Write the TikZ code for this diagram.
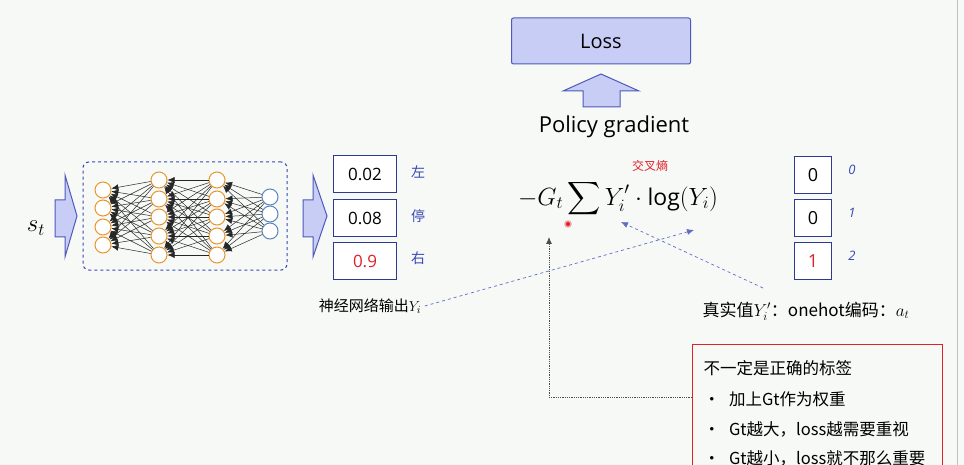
\documentclass[tikz,border=0pt]{standalone}
\usepackage{amsmath,amssymb}
\usepackage{xcolor}
\usepackage{fontspec}
\setmainfont{Open Sans}
\newfontfamily\cjk{Noto Sans CJK SC}
\usepackage{tikz}
\usetikzlibrary{positioning,arrows.meta,calc}

\definecolor{bgcol}{HTML}{F6F9F6}
\definecolor{netblue}{HTML}{3A47B5}
\definecolor{lightblue}{HTML}{C8CDF6}
\definecolor{nodeorange}{HTML}{E8962E}
\definecolor{nodeblue}{HTML}{5B86B8}
\definecolor{hintred}{HTML}{E0202A}

\begin{document}
\begin{tikzpicture}[x=1pt, y=-1pt,
    neuron/.style={draw=nodeorange, line width=1pt, fill=white, circle,
                   minimum size=16pt, inner sep=0pt},
    outneuron/.style={draw=nodeblue, line width=1pt, fill=white, circle,
                      minimum size=16pt, inner sep=0pt},
    wire/.style={black!85, line width=0.5pt, -{Latex[length=7pt,width=6pt]}},
    valbox/.style={draw=netblue!80!black, line width=1pt, fill=white,
                   minimum width=63pt, minimum height=37pt,
                   font=\fontsize{17}{20}\selectfont},
    onebox/.style={draw=netblue!80!black, line width=1pt, fill=white,
                   minimum width=37pt, minimum height=37pt,
                   font=\fontsize{18}{20}\selectfont},
    side/.style={text=netblue, font=\cjk\fontsize{14}{16}\selectfont},
    idx/.style={text=netblue, font=\itshape\fontsize{13}{14}\selectfont},
    blockarrow/.style={draw=netblue!90, line width=1pt, fill=lightblue, line join=miter},
    hint/.style={netblue!80, dashed, line width=0.7pt, -{Latex[length=7pt,width=6pt]}},
    remarkline/.style={font=\cjk\fontsize{16.5}{20}\selectfont, anchor=west}]
  \clip (0,0) rectangle (964,465);
  \fill[bgcol] (0,0) rectangle (964,465);
  \draw[black!25, line width=1pt] (957,0) -- (957,465);

  % input state and arrow into the network
  \node[font=\fontsize{27}{28}\selectfont] (st) at (36,228) {$s_t$};
  \draw[blockarrow] (55,200) -- (65,200) -- (65,175) -- (77,216) -- (65,257)
      -- (65,237) -- (55,237) -- cycle;

  % network box
  \node[draw=netblue, dashed, line width=1pt, rounded corners=6pt,
        minimum width=204pt, minimum height=108pt] (net) at (185,216) {};

  % layers
  \foreach \i/\y in {1/190,2/208,3/227,4/245}
    \node[neuron] (a\i) at (103,\y) {};
  \foreach \i/\y in {1/180,2/199,3/217,4/236,5/255} {
    \node[neuron] (b\i) at (159,\y) {};
    \node[neuron] (c\i) at (217,\y) {};
  }
  \foreach \i/\y in {1/197,2/214,3/231}
    \node[outneuron] (d\i) at (270,\y) {};

  % weights, pointing backwards
  \foreach \j in {1,...,5}
    \foreach \i in {1,...,4}
      \draw[wire] (b\j) -- (a\i);
  \foreach \j in {1,...,5}
    \foreach \i in {1,...,5}
      \draw[wire] (c\j) -- (b\i);
  \foreach \j in {1,...,3}
    \foreach \i in {1,...,5}
      \draw[wire] (d\j) -- (c\i);

  % output probabilities
  \draw[blockarrow] (303,200) -- (313,200) -- (313,175) -- (327,216) -- (313,257)
      -- (313,237) -- (303,237) -- cycle;
  \node[valbox] (p1) at (365,174) {0.02};
  \node[valbox] (p2) at (365,218) {0.08};
  \node[valbox, text=hintred] (p3) at (365,261) {0.9};
  \node[side] (left) at (418,172) {左};
  \node[side] (stop) at (418,216) {停};
  \node[side] (right) at (418,258) {右};
  \node[font=\cjk\fontsize{15}{18}\selectfont] (nnout) at (370,306) {神经网络输出$Y_i$};

  % loss
  \node[draw=netblue!90, line width=1pt, fill=lightblue, rounded corners=2pt,
        minimum width=179pt, minimum height=46pt,
        font=\fontsize{20}{22}\selectfont] (loss) at (601,41) {Loss};
  \draw[blockarrow] (583,107) -- (583,91) -- (563,91) -- (601,74) -- (639,91)
      -- (620,91) -- (620,107) -- cycle;
  \node[font=\fontsize{22}{24}\selectfont] (pg) at (614,127) {Policy gradient};

  % objective
  \node[font=\fontsize{23}{26}\selectfont] (obj) at (618,199)
      {$\displaystyle -G_t\sum Y_i'\cdot\log(Y_i)$};
  \node[text=hintred, font=\cjk\fontsize{12}{14}\selectfont] (ce) at (650,166) {交叉熵};
  \node[circle, fill=hintred, draw=hintred!40, line width=1.5pt, inner sep=0pt,
        minimum size=6pt] (ptr) at (568,224) {};

  % one-hot target
  \node[onebox] (t1) at (813,175) {0};
  \node[onebox] (t2) at (813,218) {0};
  \node[onebox, text=hintred] (t3) at (813,261) {1};
  \node[idx] (i0) at (852,170) {0};
  \node[idx] (i1) at (852,213) {1};
  \node[idx] (i2) at (852,256) {2};
  \node[font=\cjk\fontsize{17}{20}\selectfont] (truth) at (806,311)
      {真实值$Y_i'$：onehot编码：$a_t$};

  % pointers
  \coordinate (logtip) at (694,230);
  \coordinate (yptip) at (621,222);
  \coordinate (gttip) at (549,237);
  \draw[hint] (nnout.east) -- (logtip);
  \draw[hint] (763,288) -- (yptip);

  % remark box
  \node[draw=hintred, line width=1pt, anchor=north west, minimum width=250pt,
        minimum height=150pt] (remark) at (692,344) {};
  \node[remarkline] (r0) at (700,368) {不一定是正确的标签};
  \node[remarkline] (r1) at (700,399) {•\hspace{9pt}加上Gt作为权重};
  \node[remarkline] (r2) at (700,429) {•\hspace{9pt}Gt越大，loss越需要重视};
  \node[remarkline] (r3) at (700,458) {•\hspace{9pt}Gt越小，loss就不那么重要};
  \draw[black!70, densely dotted, line width=0.8pt, -{Latex[length=7pt,width=6pt]}]
      ($(remark.north west)+(0,53)$) -| (gttip);
\end{tikzpicture}
\end{document}
